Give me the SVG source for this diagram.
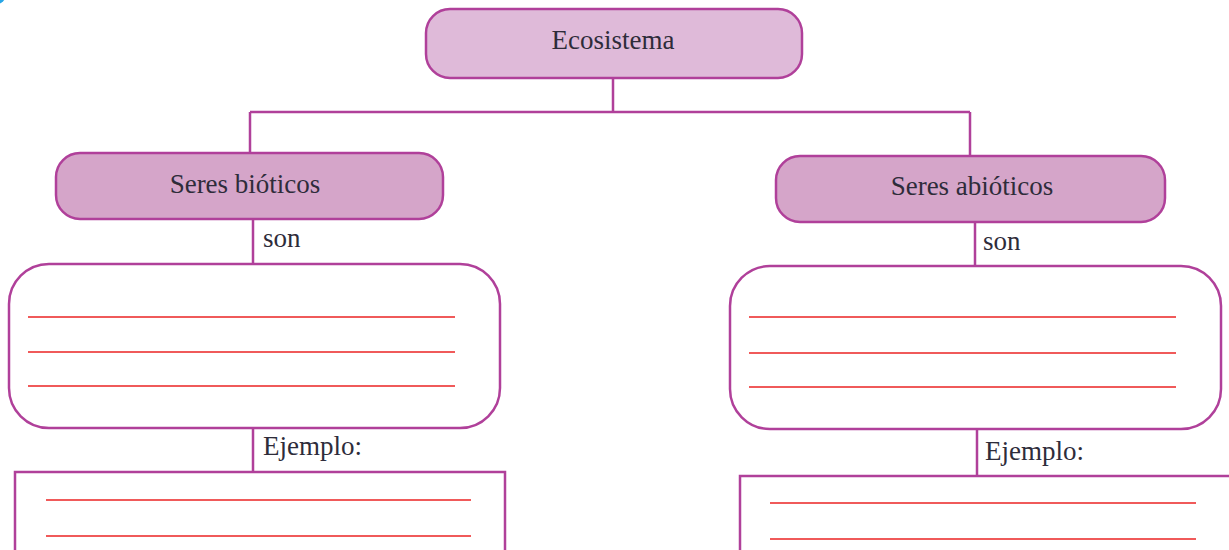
<svg xmlns="http://www.w3.org/2000/svg" width="1229" height="550" viewBox="0 0 1229 550">
<style>
.box{stroke:#b0409a;stroke-width:2.5}
.top{fill:#dfbad9}
.mid{fill:#d5a5c9}
.blank{fill:#ffffff}
.wline{stroke:#f05a5a;stroke-width:1.8}
.conn{stroke:#b0409a;stroke-width:2.5;fill:none}
.lbl{font-family:'Liberation Serif','Times New Roman',serif;font-size:27px;fill:#2e2c3a}
.c{text-anchor:middle}
</style>
<rect width="1229" height="550" fill="#ffffff"/>
<circle cx="-6" cy="-8" r="13" fill="#29a6e6"/>
<g id="connectors">
<path class="conn" d="M613 79 V112 M250 112 H970 M250 112 V153 M970 112 V156"/>
<path class="conn" d="M253 219 V264 M975 222 V266"/>
<path class="conn" d="M253 428 V472 M977 429 V476"/>
</g>
<g id="ecosistema">
<rect class="box top" x="426" y="9" width="376" height="69" rx="24"/>
<text class="lbl c" font-family="Liberation Serif, serif" x="613" y="49">Ecosistema</text>
</g>
<g id="bioticos">
<rect class="box mid" x="56" y="153" width="387" height="66" rx="24"/>
<text class="lbl c" font-family="Liberation Serif, serif" x="245" y="193">Seres bióticos</text>
</g>
<g id="abioticos">
<rect class="box mid" x="776" y="156" width="389" height="66" rx="24"/>
<text class="lbl c" font-family="Liberation Serif, serif" x="972" y="195">Seres abióticos</text>
</g>
<g id="son-left">
<text class="lbl" font-family="Liberation Serif, serif" x="263" y="247">son</text>
</g>
<g id="son-right">
<text class="lbl" font-family="Liberation Serif, serif" x="983" y="250">son</text>
</g>
<g id="def-bioticos">
<rect class="box blank" x="9" y="264" width="491" height="164" rx="40"/>
<path class="wline" d="M28 317 H455 M28 352 H455 M28 386 H455"/>
</g>
<g id="def-abioticos">
<rect class="box blank" x="730" y="266" width="491" height="163" rx="40"/>
<path class="wline" d="M749 317 H1176 M749 353 H1176 M749 387 H1176"/>
</g>
<g id="ejemplo-left">
<text class="lbl" font-family="Liberation Serif, serif" x="263" y="455">Ejemplo:</text>
</g>
<g id="ejemplo-right">
<text class="lbl" font-family="Liberation Serif, serif" x="985" y="460">Ejemplo:</text>
</g>
<g id="ej-bioticos">
<rect class="box blank" x="15" y="472" width="490" height="100"/>
<path class="wline" d="M46 500 H471 M46 536 H471"/>
</g>
<g id="ej-abioticos">
<rect class="box blank" x="740" y="476" width="500" height="100"/>
<path class="wline" d="M770 503 H1196 M770 539 H1196"/>
</g>
</svg>
